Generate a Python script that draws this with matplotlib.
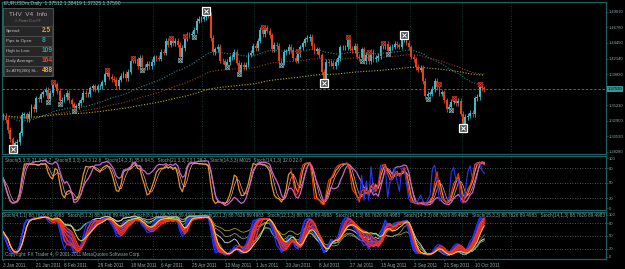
import numpy as np
import pandas as pd
import matplotlib
matplotlib.use('Agg')
import matplotlib.pyplot as plt
from matplotlib.patches import Rectangle
from matplotlib.transforms import blended_transform_factory

plt.rcParams['font.family'] = ['Liberation Sans', 'DejaVu Sans']

W, H = 625, 269
FRAME = '#1d6262'
GRID = '#1c4c48'
TXT = '#90a8a8'
UP_C = '#3fb8c8'
DN_C = '#e3421e'

# EURUSD daily closes, 2011
START = '2011-01-03'
CLOSE_JAN = [1.3360, 1.3300, 1.3150, 1.3010, 1.2910, 1.2950, 1.2970, 1.3100, 1.3370, 1.3380,
             1.3310, 1.3390, 1.3490, 1.3460, 1.3620, 1.3610, 1.3680, 1.3710, 1.3750, 1.3610, 1.3700]
CLOSE_FEB = [1.3830, 1.3830, 1.3730, 1.3580, 1.3600, 1.3640, 1.3700, 1.3590, 1.3530, 1.3470,
             1.3500, 1.3550, 1.3600, 1.3700, 1.3680, 1.3680, 1.3770, 1.3800, 1.3750, 1.3800]
CLOSE_MAR = [1.3800, 1.3860, 1.3990, 1.4000, 1.3940, 1.3910, 1.3900, 1.3800, 1.3900, 1.3960,
             1.3990, 1.3920, 1.4020, 1.4180, 1.4180, 1.4200, 1.4100, 1.4220, 1.4090, 1.4080,
             1.4130, 1.4100, 1.4160]
CLOSE_APR = [1.4230, 1.4220, 1.4210, 1.4310, 1.4300, 1.4480, 1.4420, 1.4480, 1.4440, 1.4480,
             1.4420, 1.4230, 1.4370, 1.4510, 1.4570, 1.4560, 1.4580, 1.4640, 1.4780, 1.4800, 1.4810]
CLOSE_MAY = [1.4830, 1.4880, 1.4860, 1.4520, 1.4310, 1.4350, 1.4390, 1.4180, 1.4170, 1.4120,
             1.4160, 1.4230, 1.4240, 1.4310, 1.4150, 1.4020, 1.4120, 1.4080, 1.4120, 1.4270,
             1.4300, 1.4400]
CLOSE_JUN = [1.4370, 1.4480, 1.4640, 1.4580, 1.4670, 1.4630, 1.4560, 1.4350, 1.4420, 1.4400,
             1.4180, 1.4150, 1.4310, 1.4320, 1.4390, 1.4340, 1.4220, 1.4180, 1.4280, 1.4380,
             1.4440, 1.4500]
CLOSE_JUL = [1.4520, 1.4540, 1.4400, 1.4320, 1.4350, 1.4260, 1.4020, 1.3890, 1.4160, 1.4140,
             1.4150, 1.4100, 1.4160, 1.4220, 1.4380, 1.4380, 1.4380, 1.4490, 1.4360, 1.4340, 1.4400]
CLOSE_AUG = [1.4240, 1.4220, 1.4350, 1.4170, 1.4270, 1.4170, 1.4320, 1.4200, 1.4220, 1.4250,
             1.4400, 1.4400, 1.4430, 1.4320, 1.4380, 1.4390, 1.4430, 1.4410, 1.4390, 1.4500,
             1.4520, 1.4450, 1.4380]
CLOSE_SEP = [1.4240, 1.4200, 1.4090, 1.4050, 1.4070, 1.3880, 1.3650, 1.3690, 1.3690, 1.3760,
             1.3880, 1.3790, 1.3690, 1.3710, 1.3590, 1.3460, 1.3490, 1.3570, 1.3590, 1.3550,
             1.3580, 1.3390]
CLOSE_OCT = [1.3220, 1.3340, 1.3360, 1.3400, 1.3380, 1.3620, 1.3640, 1.3790, 1.3770, 1.3759]
FIRST_OPEN = 1.3340
WICK = 0.004

TITLE = 'EURUSDm,Daily  1.37512 1.38419 1.37325 1.37590'
LAST_PRICE = 1.37590
PRICE_TICKS = [1.49070, 1.46760, 1.44450, 1.42140, 1.39830, 1.35210, 1.32900, 1.30590, 1.28280]
DATE_TICKS = ['2011-01-03', '2011-01-21', '2011-02-08', '2011-02-28', '2011-03-18', '2011-04-06',
              '2011-04-25', '2011-05-13', '2011-06-01', '2011-06-20', '2011-07-08', '2011-07-27',
              '2011-08-15', '2011-09-02', '2011-09-21', '2011-10-10']
MONTH_GRID = ['2011-02-01', '2011-03-01', '2011-04-01', '2011-05-02', '2011-06-01', '2011-07-01',
              '2011-08-01', '2011-09-01', '2011-10-03', '2011-11-01']

HIGH_MARKS = [21, 44, 55, 71, 77, 110, 125, 146, 155, 161, 185, 191, 202]
LOW_MARKS = [19, 24, 30, 59, 75, 81, 95, 100, 118, 152, 163, 180, 190]
BIG_HIGH = [86, 170]
BIG_LOW = [4, 136, 195]

INFO_ROWS = ['Spread:', 'Pips to Open:', 'High to Low:', 'Daily Average:', '3x ATR(200) SL:']
INFO_VALS = ['2.5', '8', '109', '164', '488']
INFO_COLS = ['#f0a030', '#1fa89a', '#1fa89a', '#e8402a', '#f0a030']

STOCH1_LABEL = ('Stoch(5,3,3) 21.3 26.2   Stoch(8,3,3) 14.3 12.8   Stoch(14,3,3) 35.6 64.5   '
                'Stoch(21,3,3) 23.1 28.2   Stoch(14,3,3) M015  Stoch(14,1,3) 32.0 22.8')
STOCH2_LABEL = '   '.join(['Stoch(%s) 88.7626 89.4983' % p for p in
                            ['4,1,1', '5,1,3', '8,1,3', '10,1,3', '12,1,3', '14,1,3',
                             '14,3,3', '15,3,3', '14,1,3']])

closes = CLOSE_JAN + CLOSE_FEB + CLOSE_MAR + CLOSE_APR + CLOSE_MAY + CLOSE_JUN + \
    CLOSE_JUL + CLOSE_AUG + CLOSE_SEP + CLOSE_OCT
dates = pd.bdate_range(START, periods=len(closes))
ext_dates = pd.bdate_range(START, periods=len(closes) + 60)
close = pd.Series(closes)
open_ = close.shift(1).fillna(FIRST_OPEN)
high = np.maximum(open_, close) + WICK
low = np.minimum(open_, close) - WICK
idx = np.arange(len(close))


def stoch(k, d, slow):
    lo = low.rolling(k, min_periods=1).min()
    hi = high.rolling(k, min_periods=1).max()
    main = 100 * (close - lo).rolling(slow, min_periods=1).sum() / \
        (hi - lo).rolling(slow, min_periods=1).sum()
    return main, main.rolling(d, min_periods=1).mean()


fig = plt.figure(figsize=(W / 100, H / 100), dpi=100, facecolor='black')


def axes_px(x0, y0, x1, y1):
    ax = fig.add_axes([x0 / W, 1 - y1 / H, (x1 - x0) / W, (y1 - y0) / H])
    ax.set_facecolor('black')
    for s in ax.spines.values():
        s.set_color(FRAME)
        s.set_linewidth(0.9)
    ax.set_xlim(-0.5, 255.6)
    ax.tick_params(axis='both', colors=FRAME, labelcolor=TXT, labelsize=3.0,
                   length=1.5, width=0.5, pad=0.6)
    ax.yaxis.tick_right()
    ax.set_xticks([])
    grid_x = ext_dates.get_indexer(pd.to_datetime(MONTH_GRID)) - 0.5
    for gx in grid_x:
        ax.axvline(gx, color=GRID, lw=0.6, ls=(0, (1, 2)), zorder=0)
    return ax


ax_p = axes_px(2, 2, 606, 154)
ax_s1 = axes_px(2, 156, 606, 210)
ax_s2 = axes_px(2, 212, 606, 259)

# price panel
ax_p.set_ylim(1.27908, 1.50560)
ax_p.set_yticks(PRICE_TICKS)
ax_p.set_yticklabels(['%.5f' % t for t in PRICE_TICKS])
for n, c in [(50, '#1f8a8a'), (100, '#a03a20'), (200, '#b8b020')]:
    ax_p.plot(idx, close.ewm(span=n, adjust=False).mean(), color=c, lw=0.8, ls=(0, (1, 1.5)))
ax_p.axhline(LAST_PRICE, color='#707070', lw=0.6, ls=(0, (3, 2)))
up = close >= open_
cols = np.where(up, UP_C, DN_C)
ax_p.vlines(idx, low, high, colors=cols, lw=0.6)
ax_p.bar(idx, (close - open_).abs().clip(lower=0.0008), bottom=np.minimum(open_, close),
         width=0.8, color=cols, lw=0)
ax_p.plot(HIGH_MARKS, high[HIGH_MARKS], ls='none', marker='s', ms=3.4, mfc='#3a0c08',
          mec='#b02a1a', mew=0.6)
ax_p.plot(HIGH_MARKS, high[HIGH_MARKS], ls='none', marker='x', ms=2.2, mec='#e03a20', mew=0.6)
ax_p.plot(LOW_MARKS, low[LOW_MARKS], ls='none', marker='s', ms=3.4, mfc='#101818',
          mec='#5f8080', mew=0.6)
ax_p.plot(LOW_MARKS, low[LOW_MARKS], ls='none', marker='x', ms=2.2, mec='#9ab0b0', mew=0.6)
big_pts = (BIG_HIGH + BIG_LOW, list(high[BIG_HIGH]) + list(low[BIG_LOW]))
ax_p.plot(*big_pts, ls='none', marker='s', ms=5.5, mfc='#505050', mec='white', mew=0.9)
ax_p.plot(*big_pts, ls='none', marker='x', ms=3.5, mec='white', mew=0.7)
tr = blended_transform_factory(ax_p.transAxes, ax_p.transData)
ax_p.text(1.003, LAST_PRICE, '%.5f' % LAST_PRICE, transform=tr, fontsize=3.0, color='black',
          va='center', ha='left',
          bbox=dict(boxstyle='square,pad=0.15', fc='#3a9494', ec='none'))

# stochastic panel 1
ax_s1.set_ylim(-4, 104)
ax_s1.set_yticks([100, 80, 50, 20, 0])
for lv in [80, 50, 20]:
    ax_s1.axhline(lv, color='#5c7070', lw=0.6, ls=(0, (1, 2)))
ax_s1.plot(idx, stoch(5, 3, 3)[0], color='#e8902c', lw=0.9)
ax_s1.plot(idx, stoch(5, 3, 3)[1], color='#f2a0a0', lw=0.5)
ax_s1.plot(idx, stoch(14, 3, 3)[0], color='#c865d0', lw=0.9)
ax_s1.plot(idx[150:], stoch(3, 1, 1)[0][150:], color='#2838ff', lw=0.8)
ax_s1.plot(idx[122:], stoch(5, 3, 2)[0][122:], color='#ff3010', lw=0.8)
ax_s1.text(0.005, 0.92, STOCH1_LABEL, transform=ax_s1.transAxes, fontsize=3.3, color=TXT,
           va='center', ha='left', clip_on=False)

# stochastic panel 2
ax_s2.set_ylim(-5, 107)
ax_s2.set_yticks([100, 80, 50, 20, 0])
for lv in [80, 50, 20]:
    ax_s2.axhline(lv, color='#5c7070', lw=0.6, ls=(0, (1, 2)))
for n, c in [(100, '#a0a030'), (80, '#8c8c8c'), (50, '#d8d8d8'), (30, '#2a8c9c')]:
    ax_s2.plot(idx, stoch(n, 3, 3)[0], color=c, lw=0.6)
mains, sigs = zip(*[stoch(k, 3, 3) for k in [10, 12, 14, 16, 18]])
sig_df = pd.concat(sigs, axis=1)
ax_s2.fill_between(idx, sig_df.min(axis=1), sig_df.max(axis=1), color='#5c1010', lw=0)
for m in mains:
    ax_s2.plot(idx, m, color='#2034ff', lw=0.9)
for s in sigs:
    ax_s2.plot(idx, s, color='#ff3212', lw=0.8)
ax_s2.plot(idx, stoch(21, 3, 3)[1], color='#e8e030', lw=0.7)
ax_s2.text(0.0, 0.92, STOCH2_LABEL, transform=ax_s2.transAxes, fontsize=3.3, color=TXT,
           va='center', ha='left', clip_on=True)
ax_s2.text(0.005, 0.1, 'Copyright: FX Trader 4, \u00a9 2001-2011 MetaQuotes Software Corp.',
           transform=ax_s2.transAxes, fontsize=3.3, color=TXT, va='center', ha='left')
ax_s2.set_xticks(dates.get_indexer(pd.to_datetime(DATE_TICKS)))
ax_s2.set_xticklabels([d.strftime('%-d %b %Y') for d in pd.to_datetime(DATE_TICKS)], ha='left')
ax_s2.tick_params(axis='x', pad=1.5, labelsize=3.3)

# overlay: title and info box in pixel coordinates
ov = fig.add_axes([0, 0, 1, 1], zorder=10)
ov.set_xlim(0, W)
ov.set_ylim(H, 0)
ov.axis('off')
ov.patch.set_alpha(0)
ov.text(4, 4, TITLE, fontsize=3.6, color='#a8baba', va='center', ha='left')
ov.add_patch(Rectangle((3, 8), 50, 68, fc='#262626', ec='#5a5a5a', lw=0.6))
ov.text(28, 14, 'THV  V4  Info', fontsize=4.6, color='#b0b0b0', ha='center', va='center')
ov.text(28, 20.5, '\u00a9 Pieter D in FF', fontsize=2.6, color='#808080', ha='center', va='center')
for i, (lab, val, col) in enumerate(zip(INFO_ROWS, INFO_VALS, INFO_COLS)):
    yc = 31 + i * 10
    ov.add_patch(Rectangle((4, yc - 5), 48, 9.5, fc='none', ec='#555555', lw=0.4))
    ov.text(6, yc, lab, fontsize=3.2, color='#c0c0c0', va='center', ha='left')
    ov.text(41.5, yc, val, fontsize=4.8, color=col, va='center', ha='left', fontweight='bold')

fig.savefig('out.png', dpi=100, facecolor='black')
